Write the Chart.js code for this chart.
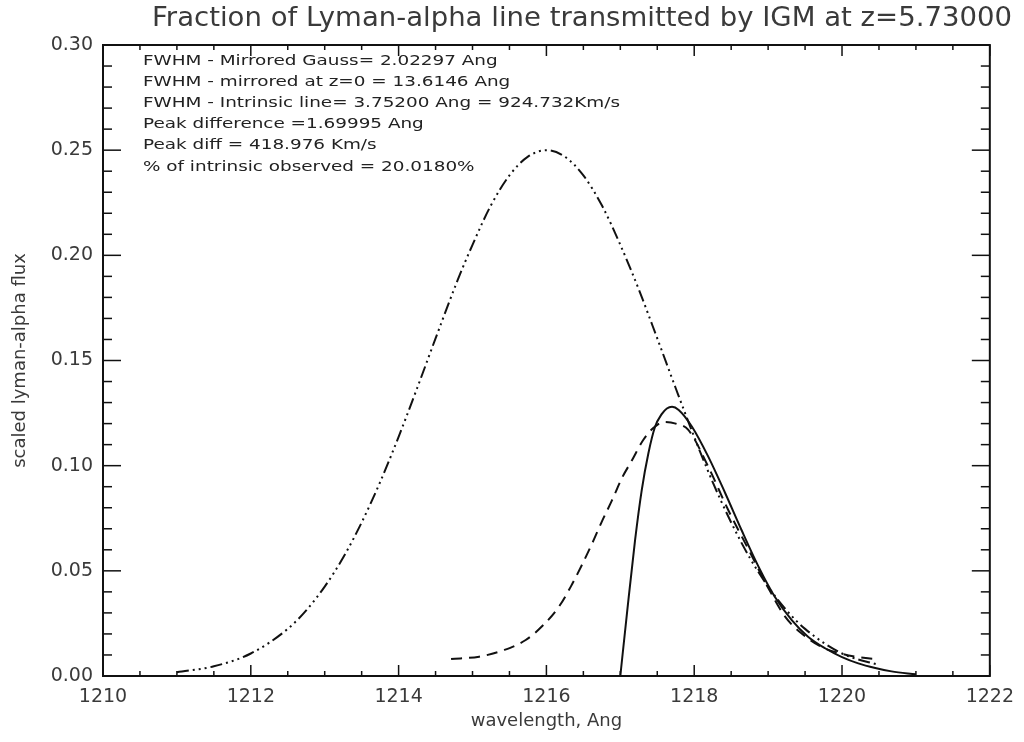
<!DOCTYPE html>
<html>
<head>
<meta charset="utf-8">
<title>Fraction of Lyman-alpha line transmitted by IGM</title>
<script src="https://cdn.jsdelivr.net/npm/chart.js@4.4.1/dist/chart.umd.min.js"></script>
<style>
  html, body { margin: 0; padding: 0; background: #fff; }
  #wrap { width: 1024px; height: 742px; }
</style>
</head>
<body>
<div id="wrap"><canvas id="lyaCanvas" width="1024" height="742"></canvas></div>
<script>
// observed line (solid) = intrinsic x IGM transmission
const observedX = [1217.0, 1217.09, 1217.2, 1217.29, 1217.38, 1217.47, 1217.56, 1217.63, 1217.7, 1217.79,
  1217.97, 1218.19, 1218.42, 1218.64, 1218.87, 1219.09, 1219.32, 1219.54, 1219.77, 1220.0,
  1220.22, 1220.45, 1220.67, 1221.0];
const observedY = [0.0, 0.0298, 0.0647, 0.0884, 0.1059, 0.1185, 0.1245, 0.1272, 0.128, 0.1265,
  0.1185, 0.1043, 0.0869, 0.0694, 0.052, 0.0377, 0.0266, 0.0187, 0.0132, 0.009,
  0.006, 0.0038, 0.0022, 0.0008];

// mirrored gaussian (dashed)
const mirroredX = [1214.71, 1215.09, 1215.43, 1215.72, 1215.96, 1216.17, 1216.33, 1216.48, 1216.62, 1216.75,
  1216.89, 1217.02, 1217.16, 1217.31, 1217.45, 1217.6, 1217.75, 1217.92, 1218.19, 1218.46,
  1218.73, 1219.0, 1219.23, 1219.45, 1219.72, 1220.0, 1220.35, 1220.5];
const mirroredY = [0.0081, 0.0092, 0.0124, 0.0171, 0.0243, 0.033, 0.0425, 0.0528, 0.0631, 0.0734,
  0.0837, 0.094, 0.1027, 0.1122, 0.118, 0.1208, 0.12, 0.117, 0.0995, 0.0789,
  0.0605, 0.042, 0.0282, 0.0203, 0.0139, 0.0105, 0.0084, 0.008];

// intrinsic line (dash dot dot dot)
const intrinsicX = [1211.0, 1211.5, 1212.0, 1212.5, 1212.75, 1213.0, 1213.25, 1213.5, 1213.75, 1214.0,
  1214.25, 1214.5, 1214.8, 1215.0, 1215.25, 1215.5, 1215.75, 1216.0, 1216.25, 1216.5,
  1216.75, 1217.0, 1217.25, 1217.5, 1217.75, 1218.0, 1218.25, 1218.5, 1218.75, 1219.0,
  1219.25, 1219.5, 1220.0, 1220.5];
const intrinsicY = [0.0018, 0.0046, 0.0107, 0.0224, 0.0312, 0.0425, 0.0563, 0.073, 0.0922, 0.1137,
  0.1368, 0.1605, 0.1883, 0.205, 0.2238, 0.238, 0.2469, 0.25, 0.2469, 0.238,
  0.2238, 0.205, 0.1838, 0.1605, 0.1368, 0.1137, 0.0922, 0.073, 0.0563, 0.0425,
  0.0312, 0.0224, 0.0107, 0.0052];

const wavelengthTicks = [1210, 1212, 1214, 1216, 1218, 1220, 1222];
const fluxTicks = [0.00, 0.05, 0.10, 0.15, 0.20, 0.25, 0.30];

const titleText = 'Fraction of Lyman-alpha line transmitted by IGM at z=5.73000';
const notes = [
  'FWHM - Mirrored Gauss= 2.02297 Ang',
  'FWHM - mirrored at z=0 = 13.6146 Ang',
  'FWHM - Intrinsic line= 3.75200 Ang = 924.732Km/s',
  'Peak difference =1.69995 Ang',
  'Peak diff = 418.976 Km/s',
  '% of intrinsic observed = 20.0180%'
];

const ink = '#111';
const textInk = '#3a3a3a';
const FONT = '"DejaVu Sans", "Liberation Sans", sans-serif';

const toPoints = (xs, ys) => xs.map((x, i) => ({ x, y: ys[i] }));

// draw text at a given size, stretched horizontally by sx
function stretchedText(ctx, text, x, y, size, sx) {
  ctx.save();
  ctx.font = `${size}px ${FONT}`;
  ctx.translate(x, y);
  ctx.scale(sx, 1);
  ctx.textAlign = 'left';
  ctx.textBaseline = 'middle';
  ctx.fillText(text, 0, 0);
  ctx.restore();
}

const idlFrame = {
  id: 'idlFrame',
  afterDatasetsDraw(chart) {
    const { ctx, chartArea: a, scales: { x, y } } = chart;
    const seg = (x1, y1, x2, y2) => { ctx.beginPath(); ctx.moveTo(x1, y1); ctx.lineTo(x2, y2); ctx.stroke(); };
    ctx.save();
    ctx.strokeStyle = ink;
    ctx.lineWidth = 1.5;
    // ticks on bottom & top, every 0.5 Ang, major every 2
    for (let i = 0; i <= 24; i++) {
      const px = x.getPixelForValue(1210 + i * 0.5);
      const len = i % 4 === 0 ? 11 : 5;
      seg(px, a.bottom, px, a.bottom - len);
      seg(px, a.top, px, a.top + len);
    }
    // ticks on left & right, every 0.01, major every 0.05
    for (let i = 0; i <= 30; i++) {
      const py = y.getPixelForValue(i * 0.01);
      const len = i % 5 === 0 ? 18 : 9;
      seg(a.left, py, a.left + len, py);
      seg(a.right, py, a.right - len, py);
    }
    ctx.lineWidth = 2;
    ctx.strokeRect(a.left, a.top, a.right - a.left, a.bottom - a.top);
    ctx.restore();
  },
  afterDraw(chart) {
    const { ctx, chartArea: a } = chart;
    ctx.save();
    ctx.fillStyle = textInk;
    // title
    ctx.font = `27px ${FONT}`;
    const tw = ctx.measureText(titleText).width;
    stretchedText(ctx, titleText, 152, 19, 27, 860 / tw);
    // annotation block
    ctx.fillStyle = '#222';
    ctx.font = `14px ${FONT}`;
    const nw = ctx.measureText(notes[2]).width;
    notes.forEach((line, i) => stretchedText(ctx, line, a.left + 40, 61 + i * 21.2, 14, 477 / nw));
    ctx.restore();
  }
};

new Chart(document.getElementById('lyaCanvas'), {
  type: 'line',
  data: {
    datasets: [
      { label: 'observed', data: toPoints(observedX, observedY), borderColor: ink, borderWidth: 2,
        cubicInterpolationMode: 'monotone' },
      { label: 'mirrored', data: toPoints(mirroredX, mirroredY), borderColor: ink, borderWidth: 2,
        borderDash: [11, 7], cubicInterpolationMode: 'monotone' },
      { label: 'intrinsic', data: toPoints(intrinsicX, intrinsicY), borderColor: ink, borderWidth: 2,
        borderDash: [12, 4, 2, 4, 2, 4, 2, 4], cubicInterpolationMode: 'monotone' }
    ]
  },
  options: {
    responsive: false,
    animation: false,
    devicePixelRatio: 1,
    layout: { padding: { top: 45, right: 32, left: 0, bottom: 0 } },
    plugins: { legend: { display: false }, tooltip: { enabled: false } },
    elements: { point: { radius: 0 }, line: { fill: false } },
    scales: {
      x: {
        type: 'linear', min: 1210, max: 1222,
        grid: { display: false, drawTicks: false }, border: { display: false },
        ticks: { color: textInk, font: { family: FONT, size: 19 }, padding: 10, maxRotation: 0, autoSkip: false,
          callback: v => String(v) },
        afterBuildTicks: s => { s.ticks = wavelengthTicks.map(value => ({ value })); },
        afterFit: s => { s.height = 66; },
        title: { display: true, text: 'wavelength, Ang', color: textInk, font: { family: FONT, size: 18 },
          padding: { top: 0, bottom: 10 } }
      },
      y: {
        type: 'linear', min: 0, max: 0.3,
        grid: { display: false, drawTicks: false }, border: { display: false },
        ticks: { color: textInk, font: { family: FONT, size: 19 }, padding: 10, autoSkip: false,
          callback: v => Number(v).toFixed(2) },
        afterBuildTicks: s => { s.ticks = fluxTicks.map(value => ({ value })); },
        afterFit: s => { s.width = 103; },
        title: { display: true, text: 'scaled lyman-alpha flux', color: textInk, font: { family: FONT, size: 18 },
          padding: { top: 10, bottom: 0 } }
      }
    }
  },
  plugins: [idlFrame]
});
</script>
</body>
</html>
